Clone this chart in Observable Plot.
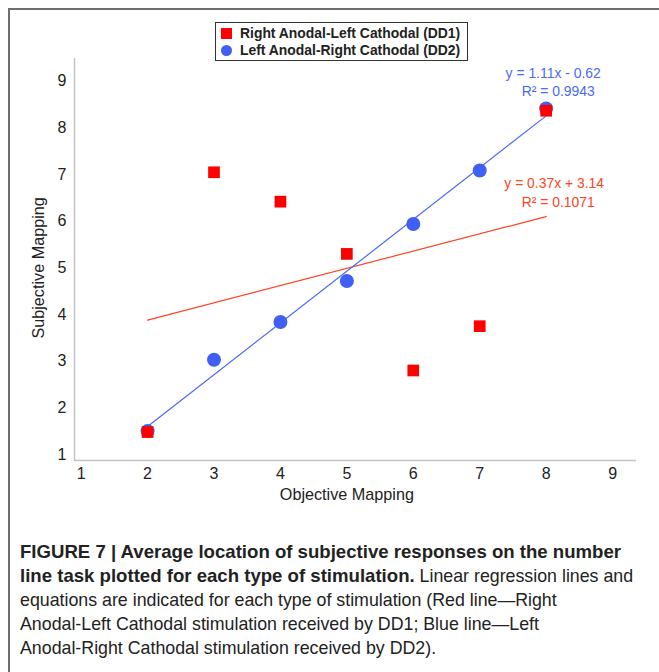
<!DOCTYPE html>
<html>
<head>
<meta charset="utf-8">
<script src="https://cdn.jsdelivr.net/npm/d3@7"></script>
<script src="https://cdn.jsdelivr.net/npm/@observablehq/plot@0.6"></script>
<style>
  html, body { margin: 0; padding: 0; background: #fff; overflow: hidden; }
  body { width: 659px; height: 672px; position: relative; font-family: "Liberation Sans", Arial, sans-serif; }
  #border { position: absolute; left: 8px; top: 8px; width: 700px; height: 700px; border-left: 2px solid #6e6e6e; border-top: 2px solid #6e6e6e; }
  #chart { position: absolute; left: 0; top: 0; }
  #legend { position: absolute; left: 215px; top: 22px; width: 251px; height: 37px; border: 1.5px solid #333; background: #fff; font-weight: bold; font-size: 13.9px; color: #222; }
  .lrow { position: absolute; left: 0; height: 17px; line-height: 17px; white-space: nowrap; }
  .lrow .sw { position: absolute; left: 5px; top: 3px; width: 11px; height: 11px; }
  .lrow .lt { position: absolute; left: 24px; top: 0; }
  #caption { position: absolute; left: 20px; top: 540px; width: 640px; font-family: "Liberation Sans", Arial, sans-serif; font-size: 17.8px; line-height: 24px; color: #222; }
  #caption span.line { display: block; white-space: nowrap; }
  #caption b { font-size: 18.6px; }
</style>
</head>
<body>
<div id="border"></div>
<div id="chart"></div>
<div id="legend"></div>
<div id="caption"></div>
<script>
// ---- data ----
const objective = [2, 3, 4, 5, 6, 7, 8];
const dd1Values = [1.48, 7.05, 6.42, 5.3, 2.8, 3.75, 8.37];
const dd2Values = [1.5, 3.03, 3.84, 4.72, 5.94, 7.09, 8.42];
const seriesNames = ["Right Anodal-Left Cathodal (DD1)", "Left Anodal-Right Cathodal (DD2)"];
const seriesColors = ["#ff0000", "#3f5ff5"];
const lineColors = ["#ff4422", "#4a6af5"];
const slopes = [0.37, 1.11];
const intercepts = [3.14, -0.62];
const eqTexts = ["y = 0.37x + 3.14", "y = 1.11x - 0.62"];
const r2Texts = ["R² = 0.1071", "R² = 0.9943"];
const xTicks = [1, 2, 3, 4, 5, 6, 7, 8, 9];
const yTicks = [1, 2, 3, 4, 5, 6, 7, 8, 9];
const xDomain = [0.9, 9.36];
const yDomain = [0.87, 9.49];
const xTitle = "Objective Mapping";
const yTitle = "Subjective Mapping";
const captionBold = ["FIGURE 7 | Average location of subjective responses on the number", "line task plotted for each type of stimulation."];
const captionRest = [" Linear regression lines and", "equations are indicated for each type of stimulation (Red line—Right", "Anodal-Left Cathodal stimulation received by DD1; Blue line—Left", "Anodal-Right Cathodal stimulation received by DD2)."];

// ---- build tables ----
const pts1 = objective.map((x, i) => ({x, y: dd1Values[i]}));
const pts2 = objective.map((x, i) => ({x, y: dd2Values[i]}));
const xEnds = [d3.min(objective), d3.max(objective)];
const fitLine = (k) => xEnds.map(x => ({x, y: slopes[k] * x + intercepts[k]}));
const fit1 = fitLine(0), fit2 = fitLine(1);
const labelAnchor = (k) => [{x: xEnds[1], y: slopes[k] * xEnds[1] + intercepts[k]}];

const font = "Liberation Sans, Arial, sans-serif";

const chart = Plot.plot({
  width: 659,
  height: 520,
  marginLeft: 74,
  marginRight: 23,
  marginTop: 58,
  marginBottom: 60,
  style: {fontFamily: font, fontSize: "16px", color: "#222", background: "transparent"},
  x: {domain: xDomain, ticks: xTicks},
  y: {domain: yDomain, ticks: yTicks},
  marks: [
    Plot.ruleX([xDomain[0]], {stroke: "#c4c4c4", strokeWidth: 1.5}),
    Plot.ruleY([yDomain[0]], {stroke: "#c4c4c4", strokeWidth: 1.5}),
    Plot.axisX(xTicks, {tickSize: 0, tickPadding: 7, fontSize: 16, fill: "#222", label: null}),
    Plot.axisY(yTicks, {tickSize: 0, tickPadding: 8, fontSize: 16, fill: "#222", label: null}),
    Plot.text([xTitle], {x: 5, frameAnchor: "bottom", dy: 39, fontSize: 16.2, fill: "#222"}),
    Plot.text([yTitle], {y: 5, frameAnchor: "left", textAnchor: "middle", dx: -36, rotate: -90, fontSize: 16.2, fill: "#222"}),
    Plot.line(fit1, {x: "x", y: "y", stroke: lineColors[0], strokeWidth: 1.2}),
    Plot.line(fit2, {x: "x", y: "y", stroke: lineColors[1], strokeWidth: 1.2}),
    Plot.dot(pts2, {x: "x", y: "y", r: 7, fill: seriesColors[1], symbol: "circle"}),
    Plot.dot(pts1, {x: "x", y: "y", r: 6.6, fill: seriesColors[0], symbol: "square"}),
    Plot.text(labelAnchor(1), {x: "x", y: "y", text: () => eqTexts[1], dx: 7, dy: -42, fontSize: 13.9, fill: lineColors[1]}),
    Plot.text(labelAnchor(1), {x: "x", y: "y", text: () => r2Texts[1], dx: 12, dy: -24, fontSize: 13.9, fill: lineColors[1]}),
    Plot.text(labelAnchor(0), {x: "x", y: "y", text: () => eqTexts[0], dx: 8, dy: -33, fontSize: 13.9, fill: lineColors[0]}),
    Plot.text(labelAnchor(0), {x: "x", y: "y", text: () => r2Texts[0], dx: 12, dy: -14, fontSize: 13.9, fill: lineColors[0]})
  ]
});
document.getElementById("chart").appendChild(chart);

// legend
const legend = document.getElementById("legend");
seriesNames.forEach((name, i) => {
  const row = document.createElement("div");
  row.className = "lrow";
  row.style.top = (2 + i * 17) + "px";
  const sw = document.createElement("span");
  sw.className = "sw";
  sw.style.background = seriesColors[i];
  if (i === 1) sw.style.borderRadius = "50%";
  const t = document.createElement("span");
  t.className = "lt";
  t.textContent = name;
  row.appendChild(sw); row.appendChild(t);
  legend.appendChild(row);
});

// caption
const cap = document.getElementById("caption");
const l1 = document.createElement("span"); l1.className = "line";
l1.innerHTML = "<b></b>"; l1.querySelector("b").textContent = captionBold[0];
const l2 = document.createElement("span"); l2.className = "line";
const b2 = document.createElement("b"); b2.textContent = captionBold[1];
l2.appendChild(b2); l2.appendChild(document.createTextNode(captionRest[0]));
cap.appendChild(l1); cap.appendChild(l2);
captionRest.slice(1).forEach(s => { const l = document.createElement("span"); l.className = "line"; l.textContent = s; cap.appendChild(l); });
</script>
</body>
</html>
